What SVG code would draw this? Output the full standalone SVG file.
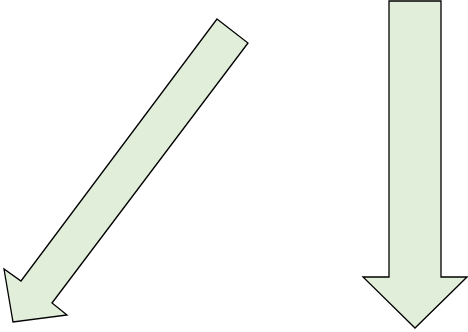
<svg xmlns="http://www.w3.org/2000/svg" width="468" height="332" viewBox="0 0 468 332">
<style>.a{fill:#e1eed9;stroke:#000;stroke-width:1.3;stroke-linejoin:miter}</style>
<rect width="468" height="332" fill="#fff"/>
<g id="arrow1"><polygon class="a" points="217,19 248,43 52,303 67,315 13,322 4,269 21,281"/></g>
<g id="arrow2"><polygon class="a" points="389,1 441,1 441,277 467,277 415,328 363,277 389,277"/></g>
</svg>
